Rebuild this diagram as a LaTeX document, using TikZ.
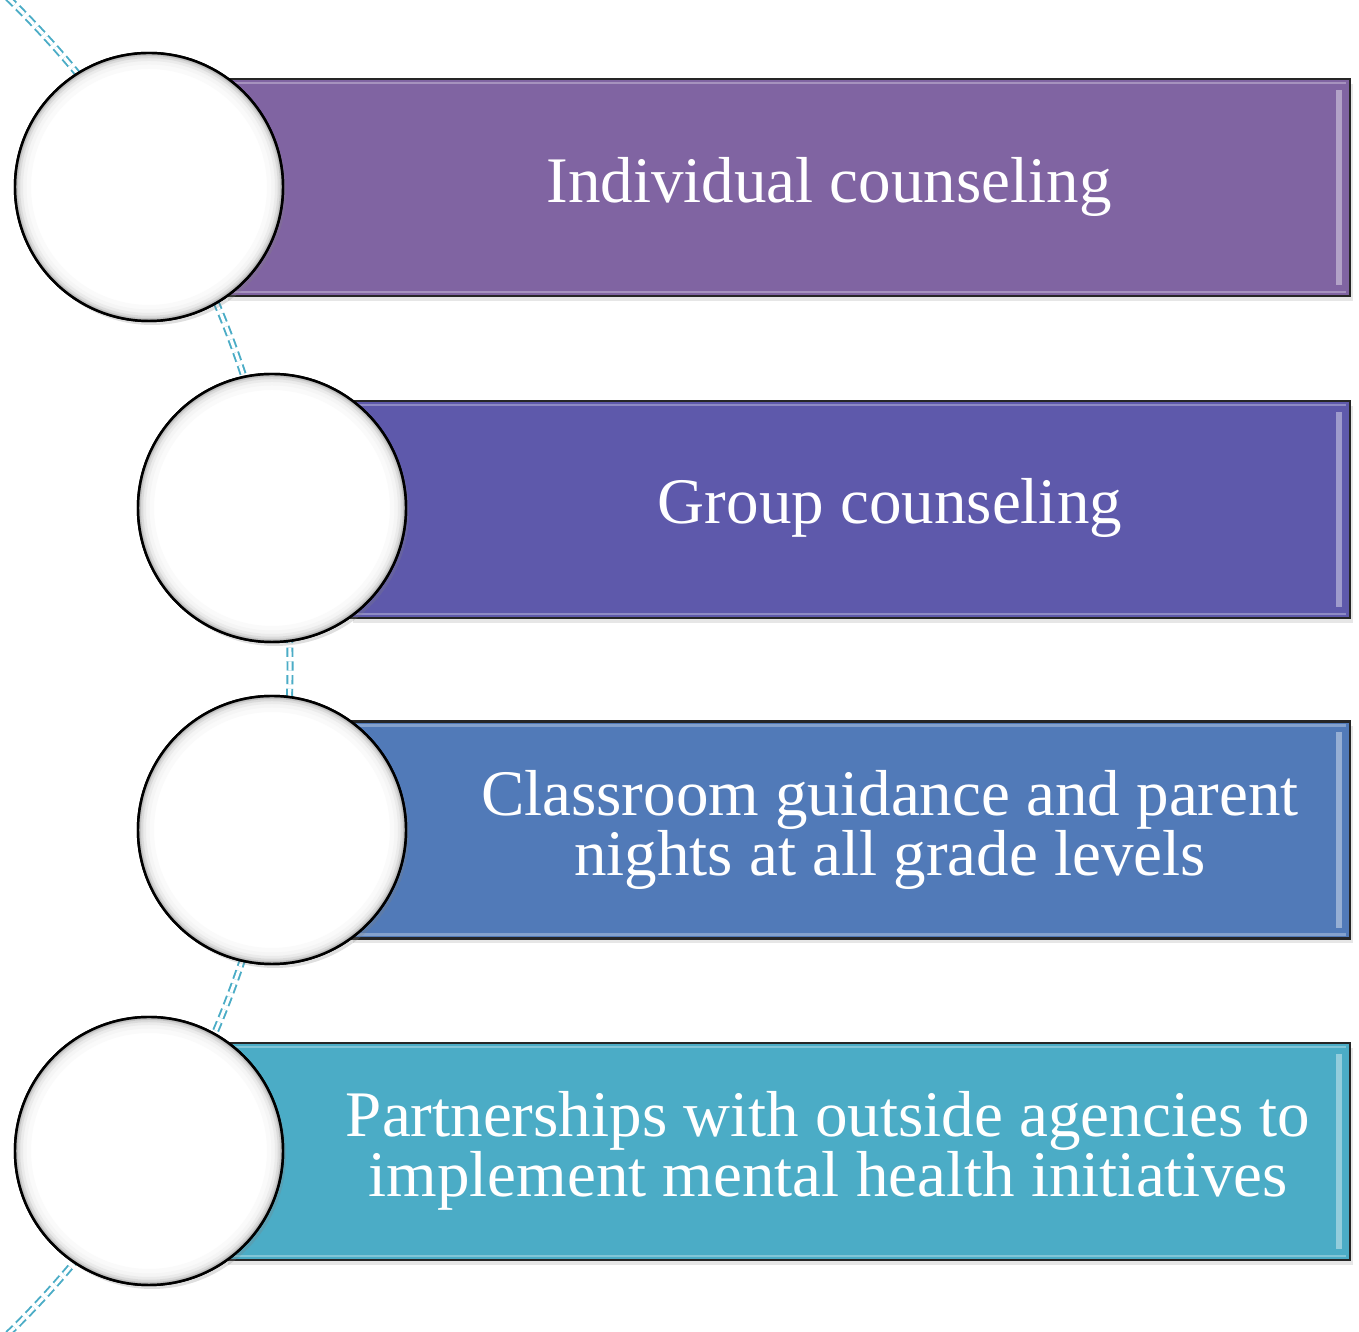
\documentclass[tikz,border=0pt]{standalone}
\usepackage{fontspec}
\setmainfont{Liberation Serif}
\usetikzlibrary{shadows}

\definecolor{arcblue}{HTML}{4BACC6}
\definecolor{barone}{HTML}{8064A2}
\definecolor{bartwo}{HTML}{5E59AB}
\definecolor{barthree}{HTML}{517AB8}
\definecolor{barfour}{HTML}{4BACC6}

\begin{document}
\begin{tikzpicture}
[   cnode/.style={draw=black,line width=0.7pt,circle,minimum size=2.68cm,inner sep=0pt,fill=white,
        drop shadow={shadow xshift=0.03cm,shadow yshift=-0.04cm,opacity=0.25}},
    bnode/.style={draw=black!85,line width=0.6pt,fill=#1,rectangle,minimum height=2.17cm,inner sep=0pt,
        drop shadow={shadow xshift=0.03cm,shadow yshift=-0.05cm,opacity=0.2}},
    tnode/.style={text=white,align=center,font=\fontsize{18.5}{17}\selectfont},
    link/.style={draw=arcblue,double=white,double distance=0.9pt,line width=0.55pt,dash pattern=on 2.6pt off 1.3pt},
]
    \useasboundingbox (0,0) rectangle (13.59,-13.32);

%%%%%%%%%%%%%%%%%%%% DASHED ARC %%%%%%%%%%%%%%%%%%%%%%%%%%%%%%%%%%%
    \begin{scope}
        \clip (0,0) rectangle (13.59,-13.32);
        \coordinate (arccenter) at (-6.42,-6.66);
        \draw[link] (arccenter) ++(50:9.32) arc[start angle=50,end angle=-50,radius=9.32];
    \end{scope}

%%%%%%%%%%%%%%%%%%%% BARS %%%%%%%%%%%%%%%%%%%%%%%%%%%%%%%%%%%
    \node[bnode=barone,minimum width=11.25cm] (b1) at (7.875,-1.875) {};
    \node[bnode=bartwo,minimum width=10cm] (b2) at (8.5,-5.095) {};
    \node[bnode=barthree,minimum width=10cm] (b3) at (8.5,-8.30) {};
    \node[bnode=barfour,minimum width=11.25cm] (b4) at (7.875,-11.515) {};

    \foreach \k in {1,...,4}
    {
        % bevel on the right end of each bar
        \fill[white,opacity=0.4] ([xshift=-0.15cm,yshift=-0.12cm]b\k.north east) rectangle ([xshift=-0.09cm,yshift=0.12cm]b\k.south east);
        \draw[white,opacity=0.3,line width=0.8pt] ([yshift=-0.05cm]b\k.north west) -- ([xshift=-0.05cm,yshift=-0.05cm]b\k.north east);
        \draw[white,opacity=0.3,line width=0.8pt] ([yshift=0.05cm]b\k.south west) -- ([xshift=-0.05cm,yshift=0.05cm]b\k.south east);
    }

%%%%%%%%%%%%%%%%%%%% CIRCLES %%%%%%%%%%%%%%%%%%%%%%%%%%%%%%%%%%%
    \node[cnode] (c1) at (1.49,-1.87) {};
    \node[cnode] (c2) at (2.72,-5.08) {};
    \node[cnode] (c3) at (2.72,-8.30) {};
    \node[cnode] (c4) at (1.49,-11.51) {};

    \foreach \k in {1,...,4}
    {
        % soft grey rim inside each circle
        \foreach \r/\w/\g in {1.205/0.05/2,1.245/0.04/4,1.275/0.03/8,1.30/0.025/14,1.32/0.02/24,1.333/0.015/38}
            \draw[black!\g,line width=\w cm] (c\k.center) circle (\r);
        \draw[black,line width=0.7pt] (c\k.center) circle (1.34);
    }

%%%%%%%%%%%%%%%%%%%% TEXTS %%%%%%%%%%%%%%%%%%%%%%%%%%%%%%%%%%%
    \node[tnode] (t1) at (8.29,-1.87) {Individual counseling};
    \node[tnode] (t2) at (8.90,-5.08) {Group counseling};
    \node[tnode] (t3) at (8.90,-8.30) {Classroom guidance and parent\\nights at all grade levels};
    \node[tnode] (t4) at (8.28,-11.51) {Partnerships with outside agencies to\\implement mental health initiatives};

\end{tikzpicture}
\end{document}
